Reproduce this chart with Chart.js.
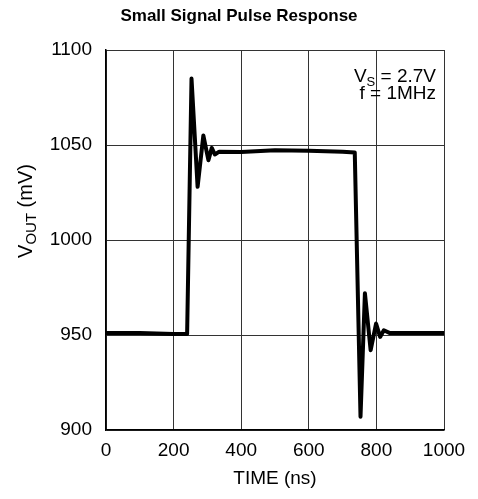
<!DOCTYPE html>
<html>
<head>
<meta charset="utf-8">
<script src="https://cdn.jsdelivr.net/npm/chart.js@4/dist/chart.umd.min.js"></script>
<style>
  html, body { margin: 0; padding: 0; background: #fff; }
  #wrap { width: 478px; height: 499px; }
</style>
</head>
<body>
<div id="wrap"><canvas id="pulseChart"></canvas></div>
<script>
// trace: time (ns) -> VOUT (mV)
let timeNs = [0, 100, 200, 240, 253, 271, 288, 303, 313, 322, 335, 400, 500, 600, 700, 736,
              753, 766, 783, 799, 811, 822, 840, 900, 1000];
let voutMv = [951, 951, 950.5, 950.5, 1085, 1028, 1055, 1042, 1048.5, 1045, 1046.5, 1046.3, 1047.3, 1047, 1046.5, 1046,
              907, 972, 942, 956, 949, 952.5, 951, 951, 951];
let xTicks = [0, 200, 400, 600, 800, 1000];
let yTicks = [900, 950, 1000, 1050, 1100];

const FONT = '"Liberation Sans", Arial, sans-serif';

const points = timeNs.map((t, i) => ({ x: t, y: voutMv[i] }));

// title, y-axis label with subscript and the VS / f note
const extraText = {
  id: 'extraText',
  afterDraw(chart) {
    const ctx = chart.ctx;
    const a = chart.chartArea;
    ctx.save();
    ctx.fillStyle = '#000';

    // title
    ctx.font = 'bold 17px ' + FONT;
    ctx.textAlign = 'center';
    ctx.textBaseline = 'alphabetic';
    ctx.fillText('Small Signal Pulse Response', 239, 21);

    // note in the top right corner
    ctx.textAlign = 'right';
    let x = a.right - 8;
    ctx.font = '19px ' + FONT;
    const rest = ' = 2.7V';
    ctx.fillText(rest, x, 82);
    const w1 = ctx.measureText(rest).width;
    ctx.font = '13px ' + FONT;
    ctx.fillText('S', x - w1, 86);
    const w2 = ctx.measureText('S').width;
    ctx.font = '19px ' + FONT;
    ctx.fillText('V', x - w1 - w2, 82);
    ctx.fillText('f = 1MHz', x, 99);

    // rotated y title: VOUT (mV)
    ctx.translate(32, 211);
    ctx.rotate(-Math.PI / 2);
    ctx.textAlign = 'left';
    ctx.font = '20px ' + FONT;
    const wv = ctx.measureText('V').width;
    const wt = ctx.measureText(' (mV)').width;
    ctx.font = '15px ' + FONT;
    const wo = ctx.measureText('OUT').width;
    let u = -(wv + wo + wt) / 2;
    ctx.font = '20px ' + FONT;
    ctx.fillText('V', u, 0);
    ctx.font = '15px ' + FONT;
    ctx.fillText('OUT', u + wv, 4);
    ctx.font = '20px ' + FONT;
    ctx.fillText(' (mV)', u + wv + wo, 0);
    ctx.restore();
  }
};

new Chart('pulseChart', {
  type: 'line',
  data: {
    datasets: [{
      data: points,
      borderColor: '#000',
      borderWidth: 4,
      borderJoinStyle: 'round',
      pointRadius: 0,
      tension: 0,
      fill: false
    }]
  },
  options: {
    responsive: true,
    maintainAspectRatio: false,
    animation: false,
    layout: { padding: { top: 50, right: 34, left: 0, bottom: 0 } },
    plugins: {
      legend: { display: false },
      tooltip: { enabled: false }
    },
    scales: {
      x: {
        type: 'linear',
        min: 0,
        max: 1000,
        afterFit: s => { s.height = 69; },
        afterBuildTicks: s => { s.ticks = xTicks.map(v => ({ value: v })); },
        grid: { color: '#333', lineWidth: 1, drawTicks: false },
        border: { color: '#000', width: 1.5 },
        ticks: { color: '#000', padding: 9, font: { family: FONT, size: 19 }, callback: v => String(v) },
        title: {
          display: true,
          text: 'TIME (ns)',
          color: '#000',
          font: { family: FONT, size: 19 },
          padding: { top: 0, bottom: 9 }
        }
      },
      y: {
        min: 900,
        max: 1100,
        afterFit: s => { s.width = 106; },
        afterBuildTicks: s => { s.ticks = yTicks.map(v => ({ value: v })); },
        grid: { color: '#333', lineWidth: 1, drawTicks: false },
        border: { color: '#000', width: 1.5 },
        ticks: { color: '#000', padding: 14, font: { family: FONT, size: 19 }, callback: v => String(v) }
      }
    }
  },
  plugins: [extraText]
});
</script>
</body>
</html>
